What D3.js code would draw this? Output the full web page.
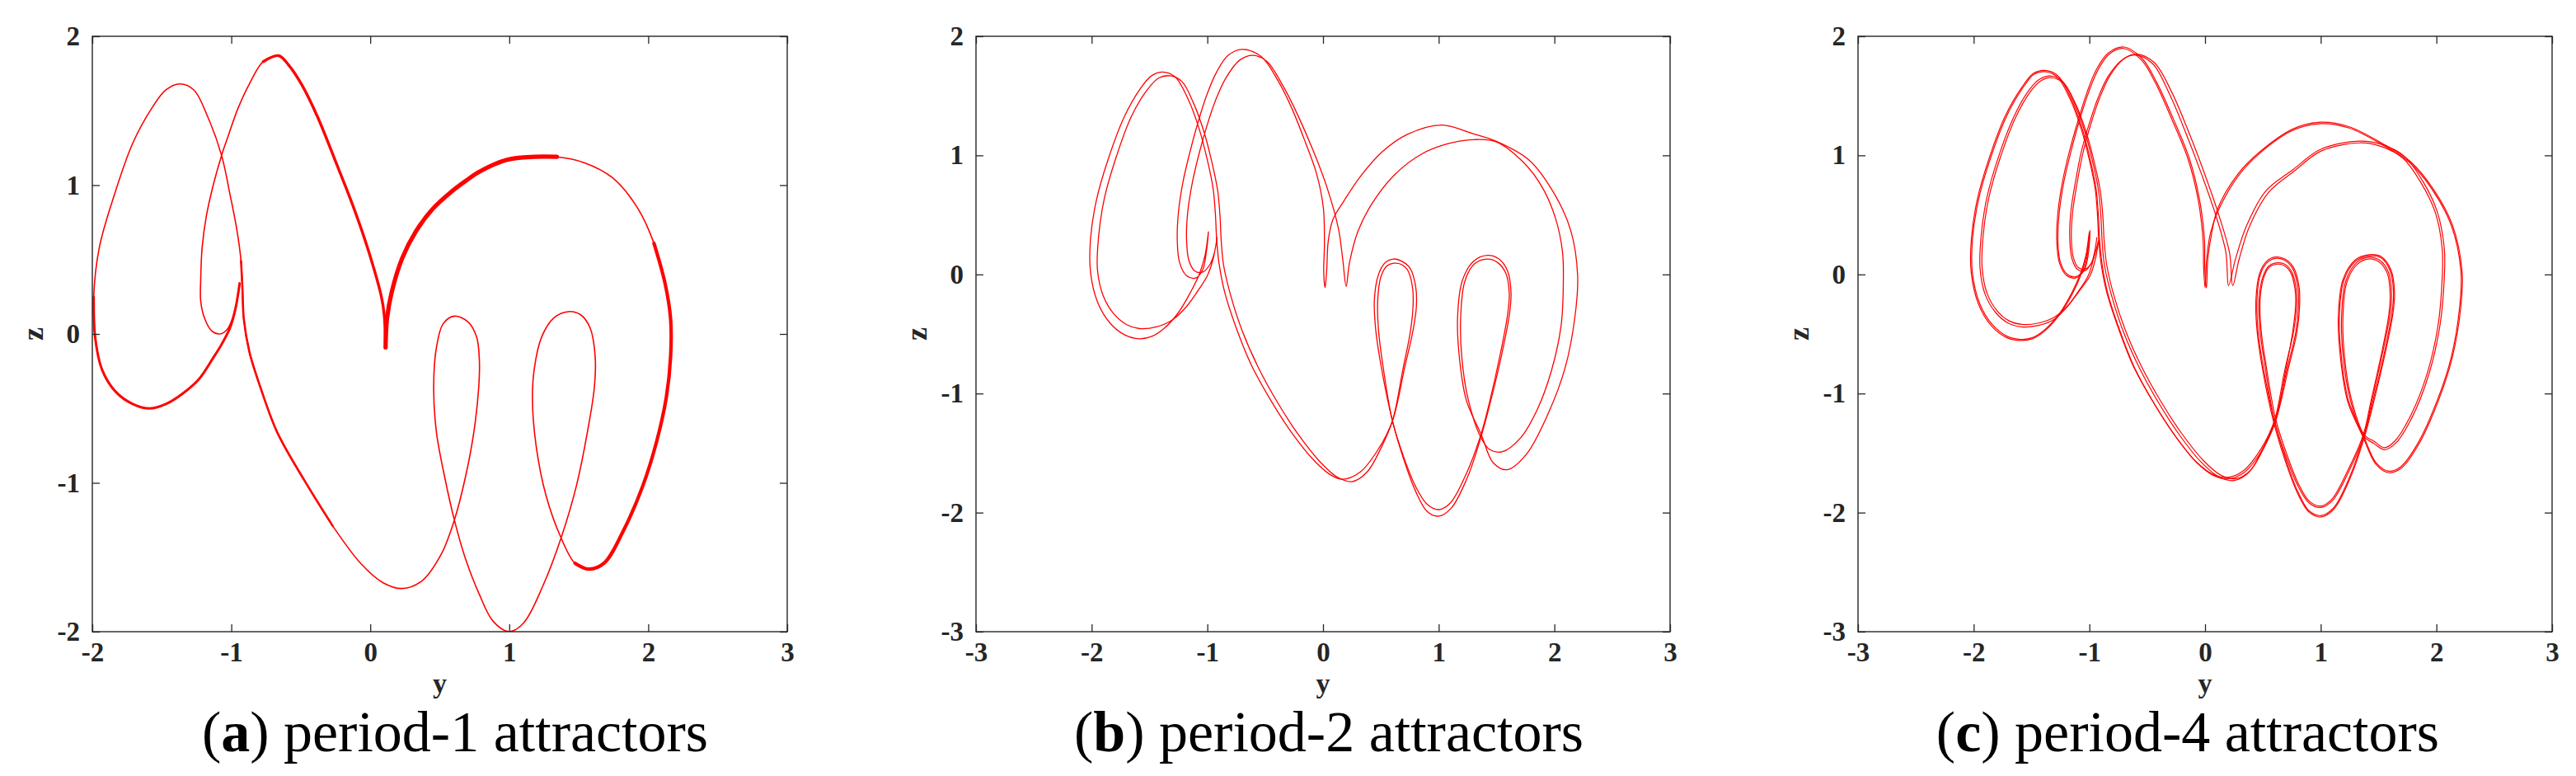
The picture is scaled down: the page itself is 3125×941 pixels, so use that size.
<!DOCTYPE html>
<html>
<head>
<meta charset="utf-8">
<script src="https://cdn.jsdelivr.net/npm/d3@7"></script>
<style>
  body { margin: 0; background: #fff; }
</style>
</head>
<body>
<svg id="fig" width="3125" height="941"></svg>
<script>
// ---- data: (y, z) points ----

// (a) period-1 orbit, one lap
const orbitA = [
  [0.11,-0.09],[0.10,0.13],[0.08,0.25],[-0.01,0.55],[-0.12,0.85],[-0.25,1.16],[-0.38,1.46],[-0.49,1.67],
  [-0.59,1.81],[-0.66,1.87],[-0.77,1.83],[-0.87,1.68],[-0.95,1.52],[-1.03,1.31],[-1.07,1.20],[-1.13,1.00],
  [-1.18,0.79],[-1.21,0.58],[-1.22,0.37],[-1.22,0.22],[-1.19,0.10],[-1.14,0.02],[-1.08,0.00],[-1.03,0.03],
  [-0.99,0.11],[-0.96,0.22],[-0.94,0.34],[-0.97,0.17],[-1.01,0.04],[-1.07,-0.07],[-1.13,-0.16],[-1.23,-0.30],
  [-1.35,-0.40],[-1.47,-0.47],[-1.59,-0.50],[-1.71,-0.47],[-1.83,-0.39],[-1.93,-0.24],[-1.98,-0.02],[-1.99,0.25],
  [-1.95,0.58],[-1.85,0.91],[-1.71,1.28],[-1.57,1.52],[-1.47,1.64],[-1.37,1.68],[-1.27,1.64],[-1.17,1.46],
  [-1.07,1.20],[-1.01,0.94],[-0.96,0.70],[-0.93,0.49],[-0.92,0.31],[-0.91,0.10],[-0.87,-0.12],[-0.79,-0.36],
  [-0.67,-0.66],[-0.47,-0.99],[-0.27,-1.29],[-0.07,-1.54],[0.09,-1.67],[0.23,-1.71],[0.37,-1.66],[0.51,-1.48],
  [0.605,-1.25],[0.685,-0.96],[0.745,-0.66],[0.78,-0.36],[0.785,-0.18],[0.765,-0.02],[0.705,0.08],[0.605,0.12],
  [0.525,0.07],[0.476,-0.09],[0.456,-0.36],[0.476,-0.66],[0.535,-0.96],[0.605,-1.25],[0.685,-1.51],[0.785,-1.75],
  [0.884,-1.93],[1.0,-2.0],[1.104,-1.94],[1.243,-1.69],[1.373,-1.37],[1.483,-1.02],[1.562,-0.66],[1.612,-0.36],
  [1.618,-0.15],[1.582,0.04],[1.512,0.13],[1.423,0.15],[1.323,0.11],[1.233,-0.02],[1.179,-0.24],[1.167,-0.45],
  [1.193,-0.75],[1.263,-1.08],[1.373,-1.37],[1.473,-1.54],[1.572,-1.58],[1.682,-1.54],[1.822,-1.32],[1.961,-1.02],
  [2.061,-0.72],[2.131,-0.42],[2.161,-0.15],[2.161,0.10],[2.121,0.34],[2.041,0.61],[1.921,0.85],[1.742,1.05],
  [1.542,1.15],[1.343,1.19],[1.183,1.19],[0.984,1.17],[0.785,1.09],[0.689,1.03],[0.589,0.96],[0.449,0.84],
  [0.329,0.69],[0.230,0.51],[0.154,0.28],[0.12,0.10]
];

// (b) period-2 orbit, two laps
const orbitB1 = [
  [0.018,-0.11],[0.006,0.02],[0.012,0.26],[0.002,0.566],[-0.057,0.85],[-0.153,1.11],[-0.272,1.40],[-0.391,1.63],
  [-0.535,1.83],[-0.70,1.89],[-0.82,1.84],[-0.92,1.70],[-1.00,1.52],[-1.08,1.28],[-1.15,1.03],[-1.21,0.78],
  [-1.25,0.52],[-1.26,0.28],[-1.24,0.10],[-1.18,-0.01],[-1.10,-0.03],[-1.04,0.04],[-1.01,0.18],[-0.99,0.36],
  [-1.02,0.16],[-1.07,0.00],[-1.14,-0.14],[-1.25,-0.32],[-1.37,-0.45],[-1.48,-0.52],[-1.59,-0.54],[-1.71,-0.51],
  [-1.84,-0.41],[-1.95,-0.23],[-2.01,0.02],[-2.01,0.30],[-1.96,0.62],[-1.86,0.96],[-1.72,1.32],[-1.58,1.56],
  [-1.48,1.67],[-1.385,1.70],[-1.28,1.66],[-1.17,1.48],[-1.07,1.22],[-1.00,0.96],[-0.95,0.72],[-0.93,0.50],
  [-0.92,0.30],[-0.90,0.10],[-0.85,-0.15],[-0.75,-0.45],[-0.62,-0.76],[-0.45,-1.06],[-0.27,-1.33],[-0.08,-1.56],
  [0.06,-1.68],[0.17,-1.72],[0.32,-1.66],[0.47,-1.48],[0.60,-1.23],[0.706,-0.78],[0.778,-0.47],[0.807,-0.27],
  [0.802,-0.11],[0.754,0.05],[0.683,0.11],[0.611,0.13],[0.539,0.10],[0.480,0.00],[0.444,-0.21],[0.456,-0.47],
  [0.504,-0.78],[0.60,-1.23],[0.70,-1.56],[0.80,-1.82],[0.90,-1.99],[1.0,-2.03],[1.11,-1.96],[1.25,-1.70],
  [1.37,-1.35],[1.45,-1.06],[1.545,-0.67],[1.612,-0.33],[1.625,-0.15],[1.595,0.03],[1.52,0.13],[1.42,0.16],
  [1.30,0.11],[1.205,-0.05],[1.163,-0.36],[1.18,-0.71],[1.24,-1.06],[1.37,-1.35],[1.47,-1.58],[1.59,-1.64],
  [1.758,-1.51],[1.950,-1.16],[2.094,-0.78],[2.177,-0.36],[2.201,-0.01],[2.141,0.37],[1.998,0.68],[1.782,0.96],
  [1.494,1.12],[1.302,1.18],[1.026,1.255],[0.73,1.177],[0.516,1.034],[0.325,0.826],[0.181,0.618],[0.086,0.462],
  [0.045,0.28],[0.032,0.04]
];
const orbitB2 = [
  [0.20,-0.10],[0.17,0.13],[0.134,0.38],[0.038,0.72],[-0.081,1.03],[-0.224,1.35],[-0.344,1.58],[-0.487,1.79],
  [-0.606,1.84],[-0.72,1.80],[-0.84,1.65],[-0.93,1.46],[-1.00,1.26],[-1.07,1.02],[-1.13,0.77],[-1.17,0.52],
  [-1.18,0.30],[-1.16,0.12],[-1.11,0.03],[-1.04,0.02],[-0.98,0.08],[-0.94,0.18],[-0.916,0.31],[-0.95,0.13],
  [-1.00,-0.01],[-1.07,-0.12],[-1.18,-0.27],[-1.30,-0.38],[-1.44,-0.44],[-1.587,-0.455],[-1.70,-0.42],[-1.81,-0.33],
  [-1.90,-0.18],[-1.95,0.04],[-1.94,0.32],[-1.89,0.64],[-1.79,0.98],[-1.66,1.32],[-1.52,1.55],[-1.42,1.65],
  [-1.322,1.668],[-1.22,1.62],[-1.12,1.44],[-1.03,1.20],[-0.96,0.94],[-0.91,0.70],[-0.89,0.48],[-0.88,0.28],
  [-0.86,0.08],[-0.80,-0.17],[-0.70,-0.47],[-0.56,-0.78],[-0.39,-1.08],[-0.21,-1.35],[-0.02,-1.58],[0.12,-1.70],
  [0.25,-1.74],[0.38,-1.66],[0.50,-1.46],[0.60,-1.23],[0.69,-0.80],[0.755,-0.48],[0.778,-0.27],[0.775,-0.12],
  [0.735,0.03],[0.675,0.085],[0.611,0.094],[0.55,0.07],[0.50,-0.02],[0.473,-0.21],[0.48,-0.47],[0.52,-0.78],
  [0.60,-1.23],[0.70,-1.54],[0.80,-1.78],[0.90,-1.93],[1.0,-1.975],[1.10,-1.92],[1.24,-1.67],[1.36,-1.36],
  [1.44,-1.07],[1.53,-0.68],[1.595,-0.34],[1.61,-0.16],[1.58,0.01],[1.51,0.10],[1.42,0.13],[1.31,0.09],
  [1.225,-0.06],[1.19,-0.36],[1.20,-0.70],[1.255,-1.05],[1.36,-1.36],[1.44,-1.47],[1.547,-1.49],[1.710,-1.37],
  [1.854,-1.13],[1.974,-0.81],[2.058,-0.43],[2.077,-0.08],[2.070,0.19],[2.010,0.47],[1.902,0.72],[1.734,0.94],
  [1.494,1.115],[1.302,1.132],[1.088,1.10],[0.850,1.01],[0.611,0.83],[0.420,0.59],[0.301,0.36],[0.229,0.10]
];

// (c) period-4 orbit, four laps
const orbitC1 = [
  [0.0,-0.11],[-0.012,0.05],[-0.018,0.30],[-0.06,0.63],[-0.146,0.965],[-0.286,1.30],[-0.430,1.61],[-0.549,1.80],
  [-0.704,1.898],[-0.83,1.85],[-0.93,1.71],[-1.01,1.52],[-1.09,1.28],[-1.16,1.03],[-1.22,0.78],[-1.26,0.52],
  [-1.272,0.28],[-1.25,0.10],[-1.19,0.00],[-1.12,-0.02],[-1.05,0.04],[-1.015,0.18],[-1.00,0.36],[-1.03,0.16],
  [-1.08,0.00],[-1.15,-0.15],[-1.26,-0.33],[-1.38,-0.46],[-1.49,-0.53],[-1.59,-0.545],[-1.71,-0.52],[-1.84,-0.42],
  [-1.95,-0.24],[-2.012,0.02],[-2.01,0.30],[-1.96,0.62],[-1.86,0.96],[-1.72,1.32],[-1.58,1.56],[-1.48,1.68],
  [-1.384,1.703],[-1.28,1.66],[-1.17,1.48],[-1.07,1.22],[-1.00,0.96],[-0.95,0.72],[-0.93,0.50],[-0.92,0.30],
  [-0.90,0.10],[-0.85,-0.15],[-0.75,-0.45],[-0.62,-0.77],[-0.45,-1.07],[-0.27,-1.34],[-0.08,-1.57],[0.07,-1.68],
  [0.19,-1.705],[0.33,-1.65],[0.48,-1.47],[0.60,-1.23],[0.71,-0.79],[0.785,-0.48],[0.807,-0.27],[0.803,-0.11],
  [0.757,0.05],[0.686,0.12],[0.609,0.135],[0.537,0.10],[0.478,0.00],[0.449,-0.21],[0.458,-0.47],[0.505,-0.79],
  [0.60,-1.23],[0.70,-1.56],[0.80,-1.82],[0.90,-1.985],[1.0,-2.025],[1.11,-1.96],[1.25,-1.70],[1.372,-1.36],
  [1.45,-1.07],[1.545,-0.68],[1.615,-0.33],[1.629,-0.15],[1.60,0.03],[1.52,0.14],[1.413,0.155],[1.30,0.11],
  [1.20,-0.05],[1.161,-0.36],[1.18,-0.71],[1.24,-1.06],[1.372,-1.36],[1.48,-1.583],[1.588,-1.652],[1.696,-1.611],
  [1.840,-1.417],[2.008,-1.056],[2.128,-0.696],[2.20,-0.28],[2.212,0.025],[2.128,0.413],[1.96,0.718],[1.768,0.94],
  [1.528,1.092],[1.24,1.231],[1.0,1.267],[0.76,1.21],[0.477,1.021],[0.286,0.826],[0.119,0.547],[0.048,0.352],
  [0.014,0.13]
];
const orbitC2 = [
  [0.012,-0.115],[-0.002,0.05],[-0.006,0.31],[-0.05,0.64],[-0.136,0.975],[-0.276,1.31],[-0.422,1.62],[-0.545,1.815],
  [-0.70,1.91],[-0.836,1.86],[-0.94,1.72],[-1.02,1.53],[-1.10,1.285],[-1.172,1.035],[-1.232,0.78],[-1.272,0.52],
  [-1.282,0.28],[-1.258,0.095],[-1.196,-0.01],[-1.12,-0.03],[-1.045,0.035],[-1.008,0.18],[-0.995,0.37],[-1.024,0.16],
  [-1.074,-0.005],[-1.146,-0.16],[-1.26,-0.34],[-1.38,-0.47],[-1.49,-0.54],[-1.592,-0.555],[-1.716,-0.53],[-1.848,-0.43],
  [-1.96,-0.245],[-2.022,0.02],[-2.02,0.30],[-1.97,0.625],[-1.87,0.965],[-1.73,1.325],[-1.585,1.57],[-1.482,1.69],
  [-1.38,1.713],[-1.272,1.668],[-1.162,1.485],[-1.062,1.225],[-0.992,0.962],[-0.942,0.72],[-0.922,0.50],[-0.912,0.30],
  [-0.892,0.10],[-0.842,-0.155],[-0.742,-0.457],[-0.612,-0.778],[-0.442,-1.08],[-0.262,-1.35],[-0.072,-1.58],[0.078,-1.69],
  [0.20,-1.717],[0.34,-1.662],[0.49,-1.48],[0.608,-1.236],[0.72,-0.79],[0.795,-0.48],[0.817,-0.27],[0.813,-0.105],
  [0.765,0.058],[0.69,0.13],[0.609,0.146],[0.532,0.11],[0.47,0.005],[0.44,-0.21],[0.449,-0.47],[0.497,-0.795],
  [0.592,-1.236],[0.695,-1.57],[0.797,-1.832],[0.90,-1.997],[1.0,-2.037],[1.114,-1.97],[1.256,-1.707],[1.378,-1.365],
  [1.458,-1.07],[1.553,-0.68],[1.624,-0.33],[1.638,-0.145],[1.607,0.038],[1.524,0.15],[1.413,0.166],[1.296,0.12],
  [1.192,-0.045],[1.152,-0.36],[1.172,-0.712],[1.233,-1.066],[1.366,-1.366],[1.478,-1.595],[1.59,-1.665],[1.702,-1.622],
  [1.848,-1.425],[2.017,-1.06],[2.137,-0.698],[2.21,-0.28],[2.222,0.025],[2.137,0.418],[1.966,0.727],[1.772,0.951],
  [1.53,1.102],[1.24,1.242],[1.0,1.279],[0.76,1.222],[0.474,1.03],[0.28,0.838],[0.11,0.555],[0.058,0.35],
  [0.024,0.13]
];
const orbitC3 = [
  [0.203,-0.094],[0.18,0.185],[0.095,0.49],[-0.024,0.825],[-0.167,1.19],[-0.310,1.52],[-0.453,1.77],[-0.609,1.843],
  [-0.72,1.80],[-0.84,1.66],[-0.93,1.47],[-1.00,1.27],[-1.07,1.03],[-1.12,0.78],[-1.16,0.53],[-1.17,0.31],
  [-1.15,0.13],[-1.10,0.04],[-1.04,0.03],[-0.985,0.09],[-0.955,0.19],[-0.935,0.31],[-0.965,0.13],[-1.01,-0.01],
  [-1.08,-0.12],[-1.19,-0.27],[-1.31,-0.38],[-1.45,-0.43],[-1.587,-0.44],[-1.70,-0.41],[-1.81,-0.32],[-1.90,-0.17],
  [-1.945,0.05],[-1.935,0.33],[-1.885,0.65],[-1.785,0.99],[-1.655,1.32],[-1.52,1.55],[-1.43,1.64],[-1.337,1.667],
  [-1.23,1.62],[-1.13,1.44],[-1.04,1.20],[-0.97,0.94],[-0.92,0.70],[-0.90,0.48],[-0.89,0.28],[-0.87,0.08],
  [-0.81,-0.17],[-0.71,-0.47],[-0.57,-0.78],[-0.40,-1.08],[-0.22,-1.35],[-0.03,-1.58],[0.12,-1.70],[0.251,-1.73],
  [0.38,-1.66],[0.50,-1.46],[0.60,-1.23],[0.69,-0.80],[0.765,-0.48],[0.792,-0.27],[0.788,-0.12],[0.745,0.03],
  [0.68,0.09],[0.609,0.096],[0.55,0.07],[0.50,-0.02],[0.466,-0.21],[0.475,-0.47],[0.52,-0.78],[0.60,-1.23],
  [0.70,-1.53],[0.80,-1.77],[0.90,-1.92],[1.0,-1.957],[1.10,-1.90],[1.24,-1.66],[1.372,-1.36],[1.44,-1.07],
  [1.53,-0.68],[1.598,-0.34],[1.612,-0.16],[1.585,0.02],[1.51,0.12],[1.413,0.145],[1.31,0.10],[1.215,-0.06],
  [1.18,-0.36],[1.195,-0.70],[1.255,-1.05],[1.372,-1.36],[1.456,-1.417],[1.552,-1.472],[1.648,-1.417],[1.792,-1.195],
  [1.936,-0.834],[2.032,-0.419],[2.068,-0.03],[2.068,0.219],[2.008,0.524],[1.888,0.773],[1.72,0.995],[1.528,1.092],
  [1.336,1.12],[1.0,1.051],[0.76,0.88],[0.525,0.70],[0.358,0.408],[0.263,0.129]
];
const orbitC4 = [
  [0.239,-0.094],[0.212,0.18],[0.122,0.49],[0.002,0.83],[-0.143,1.20],[-0.29,1.535],[-0.44,1.78],[-0.595,1.85],
  [-0.705,1.808],[-0.822,1.67],[-0.912,1.48],[-0.982,1.28],[-1.052,1.035],[-1.104,0.78],[-1.144,0.53],[-1.156,0.31],
  [-1.138,0.14],[-1.092,0.055],[-1.036,0.045],[-0.978,0.10],[-0.945,0.195],[-0.92,0.29],[-0.95,0.12],[-0.994,-0.01],
  [-1.064,-0.108],[-1.176,-0.25],[-1.298,-0.356],[-1.44,-0.408],[-1.584,-0.42],[-1.694,-0.39],[-1.798,-0.305],[-1.884,-0.16],
  [-1.927,0.055],[-1.918,0.33],[-1.868,0.648],[-1.77,0.982],[-1.642,1.31],[-1.51,1.535],[-1.422,1.625],[-1.33,1.652],
  [-1.222,1.605],[-1.118,1.43],[-1.026,1.19],[-0.956,0.935],[-0.905,0.70],[-0.883,0.48],[-0.872,0.28],[-0.85,0.08],
  [-0.79,-0.17],[-0.69,-0.465],[-0.55,-0.772],[-0.38,-1.07],[-0.20,-1.338],[-0.012,-1.565],[0.135,-1.685],[0.265,-1.715],
  [0.392,-1.645],[0.512,-1.45],[0.612,-1.222],[0.698,-0.80],[0.758,-0.48],[0.782,-0.27],[0.778,-0.125],[0.737,0.022],
  [0.675,0.078],[0.609,0.085],[0.555,0.06],[0.508,-0.025],[0.476,-0.21],[0.485,-0.47],[0.53,-0.778],[0.612,-1.222],
  [0.71,-1.52],[0.806,-1.755],[0.902,-1.905],[1.0,-1.945],[1.096,-1.888],[1.232,-1.65],[1.366,-1.352],[1.434,-1.065],
  [1.522,-0.68],[1.588,-0.342],[1.60,-0.165],[1.575,0.01],[1.505,0.105],[1.413,0.13],[1.318,0.088],[1.226,-0.065],
  [1.192,-0.36],[1.206,-0.695],[1.264,-1.045],[1.378,-1.35],[1.46,-1.40],[1.55,-1.455],[1.64,-1.40],[1.78,-1.18],
  [1.922,-0.826],[2.016,-0.415],[2.05,-0.03],[2.05,0.215],[1.992,0.515],[1.874,0.758],[1.708,0.978],[1.522,1.075],
  [1.336,1.105],[1.0,1.035],[0.78,0.875],[0.55,0.69],[0.385,0.405],[0.295,0.13]
];

// ticks
const yTicksA = [-2, -1, 0, 1, 2, 3];
const zTicksA = [-2, -1, 0, 1, 2];
const yTicksBC = [-3, -2, -1, 0, 1, 2, 3];
const zTicksBC = [-3, -2, -1, 0, 1, 2];

// captions
const captionTags = ['a', 'b', 'c'];
const captionTexts = [' period-1 attractors', ' period-2 attractors', ' period-4 attractors'];

// ---- layout ----
const boxTop = 44, boxBottom = 766;
const axisColor = '#262626';
const red = '#ff0000';

const panels = [
  { left: 112,  right: 955,  yDom: [-2, 3], zDom: [-2, 2], yTicks: yTicksA,  zTicks: zTicksA,  orbits: [orbitA], lw: 1.6, capX: 552 },
  { left: 1184, right: 2026, yDom: [-3, 3], zDom: [-3, 2], yTicks: yTicksBC, zTicks: zTicksBC, orbits: [orbitB1, orbitB2], lw: 1.3, capX: 1612 },
  { left: 2254, right: 3096, yDom: [-3, 3], zDom: [-3, 2], yTicks: yTicksBC, zTicks: zTicksBC, orbits: [orbitC1, orbitC2, orbitC3, orbitC4], lw: 1.2, capX: 2654 }
];

// thicker stretches of the period-1 curve (index ranges into orbitA, stroke width)
const thickA = [[0, 10, 3.4], [26, 39, 3.0], [51, 58, 2.6], [99, 109, 4.2], [113, 124, 5.2]];

const svg = d3.select('#fig');
const fontSerif = '"Liberation Serif", "Times New Roman", serif';

panels.forEach((p, i) => {
  const x = d3.scaleLinear().domain(p.yDom).range([p.left, p.right]);
  const z = d3.scaleLinear().domain(p.zDom).range([boxBottom, boxTop]);
  const g = svg.append('g');

  const clipId = 'clip' + i;
  g.append('clipPath').attr('id', clipId)
    .append('rect')
    .attr('x', p.left).attr('y', boxTop)
    .attr('width', p.right - p.left).attr('height', boxBottom - boxTop);

  // curves
  const closedLine = d3.line()
    .x(d => x(d[0])).y(d => z(d[1]))
    .curve(d3.curveCatmullRomClosed.alpha(0.5));
  const openLine = d3.line()
    .x(d => x(d[0])).y(d => z(d[1]))
    .curve(d3.curveCatmullRom.alpha(0.5));

  const plot = g.append('g').attr('clip-path', `url(#${clipId})`);
  plot.selectAll('path.orbit')
    .data(p.orbits)
    .join('path')
    .attr('class', 'orbit')
    .attr('d', closedLine)
    .attr('fill', 'none')
    .attr('stroke', red)
    .attr('stroke-width', p.lw)
    .attr('stroke-linejoin', 'round');

  if (i === 0) {
    const n = orbitA.length;
    thickA.forEach(([s, e, w]) => {
      const seg = [];
      for (let k = s; k <= e; k++) seg.push(orbitA[k % n]);
      plot.append('path')
        .attr('d', openLine(seg))
        .attr('fill', 'none')
        .attr('stroke', red)
        .attr('stroke-width', w)
        .attr('stroke-linecap', 'round')
        .attr('stroke-linejoin', 'round');
    });
  }

  // axes: ticks inside on all four sides, labels on bottom and left only
  const styleAxis = sel => {
    sel.select('.domain').remove();
    sel.attr('font-family', fontSerif).attr('font-size', 33).attr('font-weight', 'bold')
      .attr('color', axisColor);
    sel.selectAll('line').attr('stroke-width', 1.3);
  };
  const fmt = d => String(d);

  g.append('g').attr('transform', `translate(0,${boxBottom})`)
    .call(d3.axisBottom(x).tickValues(p.yTicks).tickFormat(fmt).tickSize(-9).tickPadding(36))
    .call(styleAxis)
    .call(a => a.selectAll('text').attr('dy', null));
  g.append('g').attr('transform', `translate(0,${boxTop})`)
    .call(d3.axisTop(x).tickValues(p.yTicks).tickFormat('').tickSize(-9))
    .call(styleAxis);
  g.append('g').attr('transform', `translate(${p.left},0)`)
    .call(d3.axisLeft(z).tickValues(p.zTicks).tickFormat(fmt).tickSize(-9).tickPadding(15))
    .call(styleAxis);
  g.append('g').attr('transform', `translate(${p.right},0)`)
    .call(d3.axisRight(z).tickValues(p.zTicks).tickFormat('').tickSize(-9))
    .call(styleAxis);

  // box
  g.append('rect')
    .attr('x', p.left).attr('y', boxTop)
    .attr('width', p.right - p.left).attr('height', boxBottom - boxTop)
    .attr('fill', 'none').attr('stroke', axisColor).attr('stroke-width', 1.4);

  // axis labels
  g.append('text')
    .attr('x', (p.left + p.right) / 2).attr('y', 840)
    .attr('text-anchor', 'middle')
    .attr('font-family', fontSerif).attr('font-size', 34).attr('font-weight', 'bold')
    .attr('fill', axisColor)
    .text('y');
  g.append('text')
    .attr('transform', `translate(${p.left - 60},${(boxTop + boxBottom) / 2}) rotate(-90)`)
    .attr('text-anchor', 'middle')
    .attr('font-family', fontSerif).attr('font-size', 36).attr('font-weight', 'bold')
    .attr('fill', axisColor)
    .text('z');

  // caption
  const cap = g.append('text')
    .attr('x', p.capX).attr('y', 911)
    .attr('text-anchor', 'middle')
    .attr('font-family', fontSerif).attr('font-size', 70)
    .attr('fill', '#000');
  cap.append('tspan').text('(');
  cap.append('tspan').attr('font-weight', 'bold').text(captionTags[i]);
  cap.append('tspan').text(')' + captionTexts[i]);
});
</script>
</body>
</html>
